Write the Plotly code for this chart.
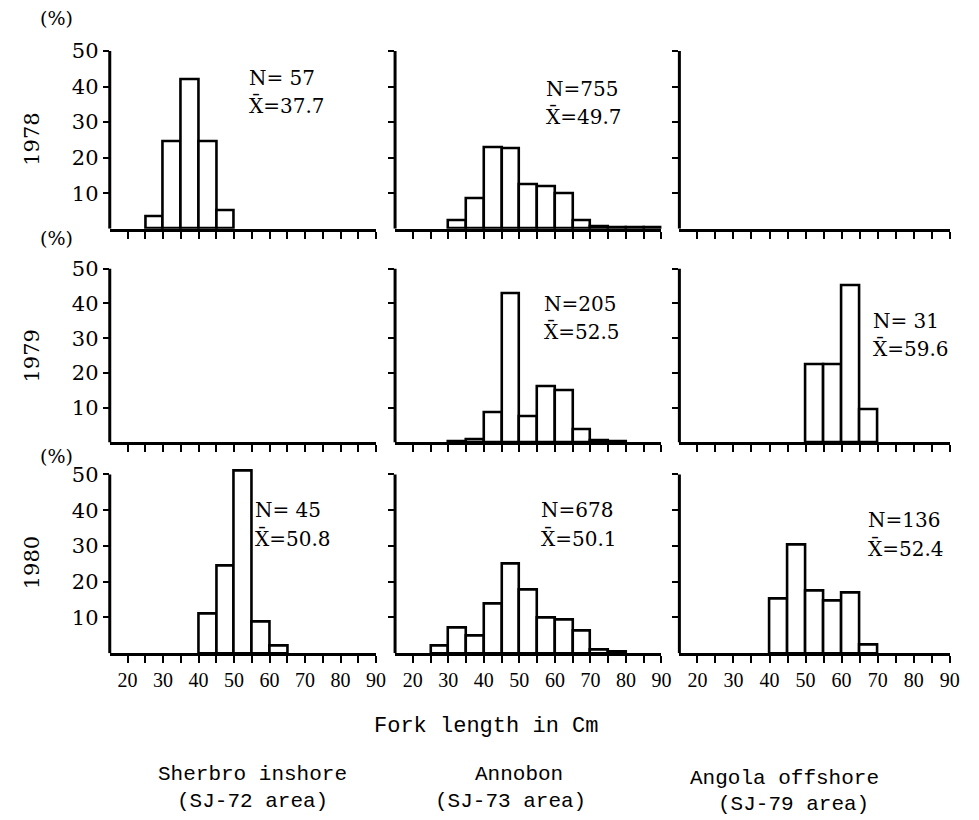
import plotly.graph_objects as go

# Measured placement of the figure on the photographed page:
# page_x ~= 8 + 0.992 * fig_x, page_y ~= 8 + fig_y
OFF_X, OFF_Y, SX = 8, 8, 0.992
FW, FH = 963, 812

# ---- data ----
bin_start = [15, 20, 25, 30, 35, 40, 45, 50, 55, 60, 65, 70, 75, 80, 85]
areas = ["Sherbro inshore", "Annobon", "Angola offshore"]
area_codes = ["(SJ-72 area)", "(SJ-73 area)", "(SJ-79 area)"]
years = ["1978", "1979", "1980"]

sherbro_1978 = [0, 0, 3.5, 24.6, 42.1, 24.6, 5.3, 0, 0, 0, 0, 0, 0, 0, 0]
annobon_1978 = [0, 0, 0, 2.5, 8.5, 23, 22.5, 12.5, 12, 10, 2.5, 0.8, 0.5, 0.4, 0.5]
angola_1978 = None
sherbro_1979 = None
annobon_1979 = [0, 0, 0, 0.4, 0.8, 8.6, 43, 7.4, 16.3, 15.1, 3.9, 0.5, 0.3, 0, 0]
angola_1979 = [0, 0, 0, 0, 0, 0, 0, 22.6, 22.6, 45.2, 9.7, 0, 0, 0, 0]
sherbro_1980 = [0, 0, 0, 0, 0, 11.1, 24.4, 51.1, 8.9, 2.2, 0, 0, 0, 0, 0]
annobon_1980 = [0, 0, 2, 7, 5, 13.8, 25, 17.8, 10, 9.3, 6.3, 1, 0.3, 0, 0]
angola_1980 = [0, 0, 0, 0, 0, 15.3, 30.3, 17.5, 14.8, 17, 2.5, 0, 0, 0, 0]

panels = [
    [sherbro_1978, annobon_1978, angola_1978],
    [sherbro_1979, annobon_1979, angola_1979],
    [sherbro_1980, annobon_1980, angola_1980],
]
stats = [
    [("N= 57", "37.7"), ("N=755", "49.7"), None],
    [None, ("N=205", "52.5"), ("N= 31", "59.6")],
    [("N= 45", "50.8"), ("N=678", "50.1"), ("N=136", "52.4")],
]

y_ticks = [10, 20, 30, 40, 50]
x_tickvals = [20, 25, 30, 35, 40, 45, 50, 55, 60, 65, 70, 75, 80, 85, 90]
x_ticktext = ["20", "", "30", "", "40", "", "50", "", "60", "", "70", "", "80", "", "90"]
X_MIN, X_MAX = 15, 90
Y_AXIS_TOP = 50
Y_RANGE_TOP = 53

# ---- layout geometry (reference pixels) ----
col_px = [(110, 377), (396, 663), (681, 952)]
row_px = [(50, 228), (268, 442), (474, 653)]   # (y of 50 %, y of 0 %)
stat_pos = [
    [(248, 77), (545, 88), None],
    [None, (543, 303), (873, 320)],
    [(254, 510), (540, 510), (868, 520)],
]


def px(x):
    return ((x - OFF_X) / SX) / FW


def py(y):
    return 1 - (y - OFF_Y) / FH


SERIF = "DejaVu Serif"
MONO = "Liberation Mono"

fig = go.Figure()
layout = {}
annotations = []
shapes = []


def note(x, y, text, size, family=SERIF, xanchor="center", angle=0):
    annotations.append(dict(
        x=px(x), y=py(y), xref="paper", yref="paper", text=text,
        showarrow=False, xanchor=xanchor, yanchor="middle", textangle=angle,
        font=dict(family=family, size=size, color="black"),
    ))


for r in range(3):
    for c in range(3):
        idx = r * 3 + c + 1
        xa = "xaxis" if idx == 1 else f"xaxis{idx}"
        ya = "yaxis" if idx == 1 else f"yaxis{idx}"
        xref = "x" if idx == 1 else f"x{idx}"
        yref = "y" if idx == 1 else f"y{idx}"
        vals = panels[r][c]
        if vals is not None:
            xs = [b + 2.5 for b, v in zip(bin_start, vals) if v > 0]
            ys = [v for v in vals if v > 0]
        else:
            xs, ys = [], []
        fig.add_trace(go.Bar(
            x=xs, y=ys, width=5, xaxis=xref, yaxis=yref,
            marker=dict(color="white", line=dict(color="black", width=2.6)),
            showlegend=False, hoverinfo="skip",
        ))
        x0, x1 = col_px[c]
        y50, y0 = row_px[r]
        unit = (y0 - y50) / Y_AXIS_TOP
        ytop = y0 - unit * Y_RANGE_TOP
        layout[xa] = dict(
            domain=[px(x0), px(x1)], range=[X_MIN, X_MAX], anchor=yref,
            showline=True, linecolor="black", linewidth=3,
            showgrid=False, zeroline=False,
            tickmode="array", tickvals=x_tickvals, ticktext=x_ticktext,
            ticks="outside", ticklen=7, tickwidth=2, tickcolor="black",
            showticklabels=(r == 2),
            tickfont=dict(family="Liberation Serif", size=20, color="black"),
        )
        layout[ya] = dict(
            domain=[py(y0), py(ytop)], range=[0, Y_RANGE_TOP], anchor=xref,
            showline=False, showgrid=False, zeroline=False,
            tickmode="array", tickvals=y_ticks,
            ticks="outside", ticklen=6, tickwidth=2, tickcolor="black",
            showticklabels=(c == 0),
            tickfont=dict(family=SERIF, size=21, color="black"),
        )
        # vertical axis line, only up to 50 %
        shapes.append(dict(
            type="line", xref=f"{xref} domain", yref=yref,
            x0=0, x1=0, y0=0, y1=Y_AXIS_TOP,
            line=dict(color="black", width=3), layer="above",
        ))
        st = stats[r][c]
        if st is not None:
            sx, sy = stat_pos[r][c]
            note(sx, sy, st[0], 20, xanchor="left")
            note(sx, sy + 28, "X\u0304=" + st[1], 20, xanchor="left")

# year labels
for yr, yc in zip(years, [138, 355, 562]):
    note(32, yc, yr, 21, angle=-90)

# (%) labels
for yy in [17, 237, 456]:
    note(57, yy, "(%)", 19)

# x title
note(487, 726, "Fork length in Cm", 22, family=MONO)

# area labels
area_pos = [(253, 774, 253, 801), (520, 774, 512, 801), (786, 778, 795, 804)]
for name, code, (ax1, ay1, ax2, ay2) in zip(areas, area_codes, area_pos):
    note(ax1, ay1, name, 21, family=MONO)
    note(ax2, ay2, code, 21, family=MONO)

fig.update_layout(
    width=FW, height=FH,
    margin=dict(l=0, r=0, t=0, b=0),
    paper_bgcolor="white", plot_bgcolor="white",
    annotations=annotations,
    shapes=shapes,
    bargap=0,
    **layout,
)

fig.write_html("out.html")
